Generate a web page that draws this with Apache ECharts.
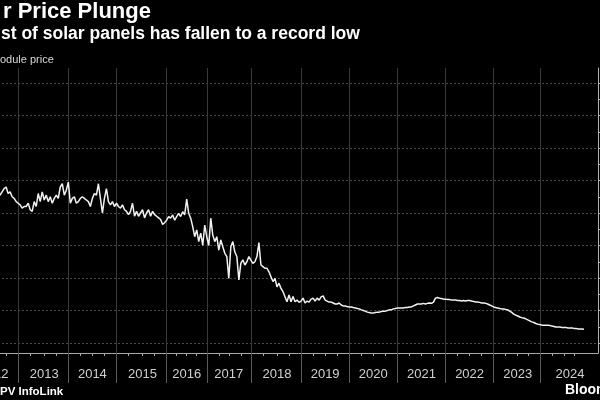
<!DOCTYPE html>
<html>
<head>
<meta charset="utf-8">
<script src="https://cdn.jsdelivr.net/npm/echarts@6/dist/echarts.min.js"></script>
<style>
  html, body { margin: 0; padding: 0; background: #000; }
  #chart { width: 600px; height: 400px; }
</style>
</head>
<body>
<div id="chart"></div>
<script>
// module price, one list per calendar year
var years = [2012, 2013, 2014, 2015, 2016, 2017, 2018, 2019, 2020, 2021, 2022, 2023, 2024];

var price2012 = [0.58, 0.57, 0.59, 0.57, 0.58, 0.56, 0.57, 0.58, 0.56, 0.57, 0.55, 0.57, 0.56, 0.58, 0.56,
    0.555, 0.565, 0.575, 0.58, 0.56, 0.565, 0.55, 0.545, 0.535];
var price2013 = [0.53, 0.525, 0.515, 0.52, 0.52, 0.53, 0.51, 0.505, 0.535, 0.52, 0.56, 0.535, 0.565,
    0.54, 0.555, 0.535, 0.55, 0.53, 0.545, 0.555, 0.545, 0.58, 0.59, 0.555, 0.57];
var price2014 = [0.595, 0.53, 0.545, 0.55, 0.53, 0.535, 0.545, 0.55, 0.545, 0.54, 0.535, 0.52,
    0.545, 0.56, 0.555, 0.59, 0.545, 0.50, 0.545, 0.575, 0.535, 0.525, 0.535, 0.52];
var price2015 = [0.53, 0.52, 0.515, 0.525, 0.51, 0.505, 0.495, 0.505, 0.53, 0.49, 0.505, 0.49, 0.50,
    0.51, 0.485, 0.50, 0.51, 0.49, 0.505, 0.495, 0.49, 0.485, 0.48, 0.465, 0.47];
var price2016 = [0.478, 0.489, 0.484, 0.494, 0.478, 0.489, 0.499, 0.489, 0.504, 0.494, 0.543, 0.499,
    0.484, 0.458, 0.427, 0.448, 0.412, 0.438, 0.40, 0.463];
var price2017 = [0.427, 0.40, 0.484, 0.432, 0.412, 0.427, 0.386, 0.417, 0.396, 0.376, 0.366, 0.299,
    0.396, 0.412, 0.38, 0.366, 0.294, 0.346, 0.356, 0.34, 0.35, 0.366];
var price2018 = [0.355, 0.345, 0.35, 0.366, 0.409, 0.34, 0.335, 0.33, 0.33, 0.319, 0.304, 0.289, 0.299,
    0.273, 0.284, 0.268, 0.258, 0.242, 0.227, 0.248, 0.227, 0.243, 0.227, 0.232, 0.225];
var price2019 = [0.229, 0.238, 0.223, 0.229, 0.226, 0.235, 0.238, 0.229, 0.238, 0.232, 0.242, 0.245,
    0.232, 0.229, 0.226, 0.226, 0.223, 0.22, 0.22, 0.223, 0.217, 0.214, 0.214, 0.212];
var price2020 = [0.211, 0.211, 0.209, 0.208, 0.206, 0.205, 0.202, 0.2, 0.198, 0.195, 0.194, 0.192,
    0.192, 0.194, 0.195, 0.195, 0.197, 0.198, 0.198, 0.2, 0.202, 0.202, 0.205, 0.206];
var price2021 = [0.208, 0.208, 0.208, 0.208, 0.209, 0.209, 0.211, 0.211, 0.214, 0.217, 0.22, 0.22,
    0.22, 0.222, 0.22, 0.222, 0.223, 0.222, 0.226, 0.238, 0.24, 0.238, 0.237, 0.235];
var price2022 = [0.235, 0.234, 0.234, 0.232, 0.232, 0.232, 0.231, 0.231, 0.229, 0.231, 0.229, 0.231,
    0.231, 0.229, 0.228, 0.226, 0.226, 0.225, 0.223, 0.223, 0.222, 0.22, 0.217, 0.214];
var price2023 = [0.211, 0.209, 0.208, 0.206, 0.205, 0.205, 0.203, 0.202, 0.198, 0.194, 0.189, 0.186,
    0.183, 0.18, 0.178, 0.177, 0.174, 0.171, 0.168, 0.165, 0.163, 0.16, 0.158];
var price2024 = [0.157, 0.155, 0.155, 0.155, 0.155, 0.154, 0.152, 0.151, 0.149, 0.149, 0.149, 0.148,
    0.148, 0.148, 0.146, 0.146, 0.146, 0.145, 0.145, 0.143, 0.143, 0.143, 0.142];

var priceByYear = [price2012, price2013, price2014, price2015, price2016, price2017, price2018,
    price2019, price2020, price2021, price2022, price2023, price2024];

// the time axis runs on a few readings past the last one
var slotsAfterLast = 7;

// y gridlines (labels sit off the right edge)
var yMin = 0.1, yMax = 0.9, yStep = 0.1;

// build categories + flat series from the yearly lists
var categories = [];
var prices = [];
var yearStarts = {};
var yearMids = {};
var quarterStarts = {};
years.forEach(function (y, k) {
    var vals = priceByYear[k];
    var last = k === years.length - 1;
    var slots = vals.length + (last ? slotsAfterLast : 0);
    var start = categories.length;
    yearStarts[start] = true;
    yearMids[start + Math.round(last ? (slots - 1) / 2 : slots / 2)] = y;
    for (var q = 1; q < 4; q++) {
        quarterStarts[start + Math.round(vals.length * q / 4)] = true;
    }
    for (var i = 0; i < slots; i++) {
        categories.push(y + '-' + (i + 1));
    }
    vals.forEach(function (v) { prices.push(v); });
});

var dom = document.getElementById('chart');
var myChart = echarts.init(dom);

var option = {
    backgroundColor: '#000',
    animation: false,
    title: [
        {
            text: 'r Price Plunge',
            left: 3, top: 1, padding: 0,
            textStyle: { color: '#fff', fontFamily: 'Liberation Sans', fontWeight: 'bold', fontSize: 22 }
        },
        {
            text: 'st of solar panels has fallen to a record low',
            left: 1, top: 25, padding: 0,
            textStyle: { color: '#fff', fontFamily: 'Liberation Sans', fontWeight: 'bold', fontSize: 17.5 }
        },
        {
            text: 'odule price',
            left: 0, top: 54, padding: 0,
            textStyle: { color: '#d8d8d8', fontFamily: 'Liberation Sans', fontWeight: 'normal', fontSize: 11 }
        },
        {
            text: 'PV InfoLink',
            left: 0, top: 386, padding: 0,
            textStyle: { color: '#fff', fontFamily: 'Liberation Sans', fontWeight: 'bold', fontSize: 11.5 }
        },
        {
            text: 'Bloom',
            left: 565, top: 383, padding: 0,
            textStyle: { color: '#fff', fontFamily: 'Liberation Sans', fontWeight: 'bold', fontSize: 14 }
        }
    ],
    grid: [
        // frame: year lines, x axis, right axis line
        { left: -30, right: 2, top: 68, bottom: 47, outerBoundsMode: 'none' },
        // value grid: horizontal gridlines + the line
        { left: -30, right: 2, top: 83, bottom: 57, outerBoundsMode: 'none' }
    ],
    xAxis: [
        {
            type: 'category', gridIndex: 0, data: categories, boundaryGap: false,
            axisLine: { show: true, lineStyle: { color: '#a8a8a8', width: 1 } },
            axisTick: {
                show: true, length: 30,
                interval: function (idx) { return !!yearStarts[idx]; },
                lineStyle: { color: '#5a5a5a' }
            },
            axisLabel: {
                show: true, margin: 15,
                interval: function (idx) { return yearMids[idx] !== undefined; },
                formatter: function (val, idx) { return String(yearMids[idx]); },
                color: '#d0d0d0', fontFamily: 'Liberation Sans', fontSize: 13
            },
            splitLine: {
                show: true,
                interval: function (idx) { return !!yearStarts[idx]; },
                lineStyle: { color: '#3a3a3a', width: 1 }
            }
        },
        {
            // quarter ticks
            type: 'category', gridIndex: 0, data: categories, boundaryGap: false,
            position: 'bottom', offset: 0,
            axisLine: { show: false },
            axisTick: {
                show: true, length: 3,
                interval: function (idx) { return !!quarterStarts[idx]; },
                lineStyle: { color: '#a8a8a8' }
            },
            axisLabel: { show: false },
            splitLine: { show: false }
        },
        {
            type: 'category', gridIndex: 1, data: categories, boundaryGap: false,
            show: false
        }
    ],
    yAxis: [
        {
            type: 'value', gridIndex: 0, position: 'right', min: 0, max: 1,
            axisLine: { show: true, lineStyle: { color: '#b0b0b0', width: 1 } },
            axisTick: { show: false },
            axisLabel: { show: false },
            splitLine: { show: false }
        },
        {
            type: 'value', gridIndex: 1, position: 'right',
            min: yMin, max: yMax, interval: yStep,
            axisLine: { show: false },
            axisTick: { show: true, length: 3, lineStyle: { color: '#b0b0b0' } },
            minorTick: { show: true, splitNumber: 2, length: 3, lineStyle: { color: '#b0b0b0' } },
            axisLabel: { show: false },
            splitLine: { show: true, lineStyle: { color: '#4a4a4a', width: 1, type: [2, 2] } }
        }
    ],
    series: [
        {
            name: 'Module price',
            type: 'line',
            xAxisIndex: 2,
            yAxisIndex: 1,
            data: prices,
            showSymbol: false,
            lineStyle: { color: '#f2f2f2', width: 1.5 },
            z: 5
        }
    ]
};

if (option && typeof option === "object") {
    myChart.setOption(option, true);
}
</script>
</body>
</html>
